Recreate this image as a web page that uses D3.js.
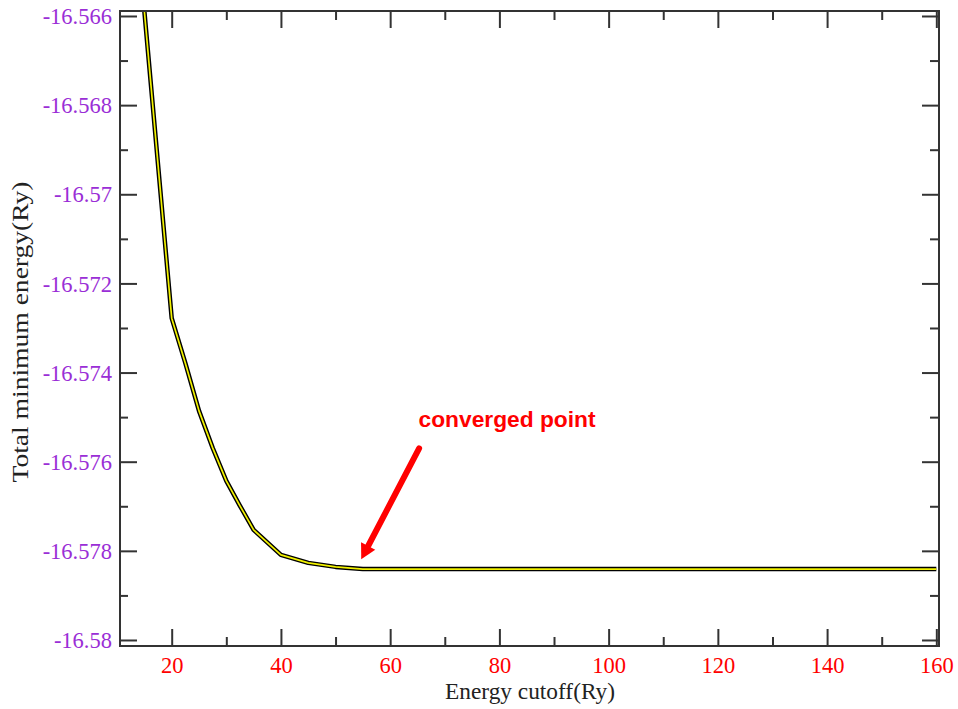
<!DOCTYPE html>
<html><head><meta charset="utf-8">
<script src="https://cdn.jsdelivr.net/npm/d3@7/dist/d3.min.js"></script>
<style>
html,body{margin:0;padding:0;background:#fff;}
svg{display:block;}
</style></head>
<body>
<script>
// ---- data ----
const cutoff = [15, 20, 22.5, 25, 27.5, 30, 32.5, 35, 40, 45, 50, 55, 60, 65, 70, 75, 80, 85, 90, 95, 100, 105, 110, 115, 120, 125, 130, 135, 140, 145, 150, 155, 160];
const energy = [-16.56590, -16.57278, -16.57379, -16.57486, -16.57569, -16.57643, -16.57699, -16.57753, -16.57809, -16.57827, -16.57836, -16.57841, -16.57841, -16.57841, -16.57841, -16.57841, -16.57841, -16.57841, -16.57841, -16.57841, -16.57841, -16.57841, -16.57841, -16.57841, -16.57841, -16.57841, -16.57841, -16.57841, -16.57841, -16.57841, -16.57841, -16.57841, -16.57841];
const xTickValues = [20, 40, 60, 80, 100, 120, 140, 160];
const xMinorValues = [30, 50, 70, 90, 110, 130, 150];
const yTickValues = [-16.566, -16.568, -16.57, -16.572, -16.574, -16.576, -16.578, -16.58];
const yMinorValues = [-16.567, -16.569, -16.571, -16.573, -16.575, -16.577, -16.579];
const yTickLabels = ["-16.566", "-16.568", "-16.57", "-16.572", "-16.574", "-16.576", "-16.578", "-16.58"];
const xTitle = "Energy cutoff(Ry)";
const yTitle = "Total minimum energy(Ry)";
const annotationText = "converged point";
const arrowTail = [65.3, -16.5757];
const arrowHead = [54.7, -16.57819];
const textAnchorPt = [65.2, -16.57523];

// ---- layout ----
const W = 958, H = 709;
const L = 120, R = 939, T = 11, B = 646;

const svg = d3.select("body").append("svg").attr("width", W).attr("height", H);

const x = d3.scaleLinear().domain([10.534, 160.49]).range([L, R]);
const y = d3.scaleLinear().domain([-16.565888, -16.580135]).range([T, B]);

const serif = "Liberation Serif, Times New Roman, serif";

svg.append("defs").append("clipPath").attr("id", "clip")
  .append("rect").attr("x", L).attr("y", T).attr("width", R - L).attr("height", B - T);

// data line: black outline with yellow core
const pts = cutoff.map((c, i) => [c, energy[i]]);
const line = d3.line().x(d => x(d[0])).y(d => y(d[1]));
const g = svg.append("g").attr("clip-path", "url(#clip)");
g.append("path").datum(pts).attr("d", line).attr("fill", "none")
  .attr("stroke", "#000").attr("stroke-width", 4.5).attr("stroke-linejoin", "round");
g.append("path").datum(pts).attr("d", line).attr("fill", "none")
  .attr("stroke", "#f2f200").attr("stroke-width", 1.7).attr("stroke-linejoin", "round");

// axes
const frameColor = "#333";
function styleAxis(sel) {
  sel.select(".domain").remove();
  sel.selectAll(".tick line").attr("stroke", frameColor).attr("stroke-width", 2);
}
const fmtY = v => yTickLabels[yTickValues.indexOf(v)];

const xb = svg.append("g").attr("transform", `translate(0,${B})`)
  .call(d3.axisBottom(x).tickValues(xTickValues).tickSize(-17).tickPadding(6).tickFormat(d3.format("d")));
styleAxis(xb);
xb.attr("font-family", serif);
xb.selectAll(".tick text").attr("fill", "#ff0000").attr("font-family", serif).attr("font-size", 22.5)
  .attr("y", 27).attr("dy", 0);
const xbm = svg.append("g").attr("transform", `translate(0,${B})`)
  .call(d3.axisBottom(x).tickValues(xMinorValues).tickSize(-9).tickFormat(""));
styleAxis(xbm);
const xt = svg.append("g").attr("transform", `translate(0,${T})`)
  .call(d3.axisTop(x).tickValues(xTickValues).tickSize(-17).tickFormat(""));
styleAxis(xt);
const xtm = svg.append("g").attr("transform", `translate(0,${T})`)
  .call(d3.axisTop(x).tickValues(xMinorValues).tickSize(-9).tickFormat(""));
styleAxis(xtm);

const yl = svg.append("g").attr("transform", `translate(${L},0)`)
  .call(d3.axisLeft(y).tickValues(yTickValues).tickSize(-17).tickPadding(8).tickFormat(fmtY));
styleAxis(yl);
yl.attr("font-family", serif);
yl.selectAll(".tick text").attr("fill", "#9a2ed6").attr("font-family", serif).attr("font-size", 22.5)
  .attr("x", -8).attr("dy", "0.34em");
const ylm = svg.append("g").attr("transform", `translate(${L},0)`)
  .call(d3.axisLeft(y).tickValues(yMinorValues).tickSize(-8).tickFormat(""));
styleAxis(ylm);
const yr = svg.append("g").attr("transform", `translate(${R},0)`)
  .call(d3.axisRight(y).tickValues(yTickValues).tickSize(-17).tickFormat(""));
styleAxis(yr);
const yrm = svg.append("g").attr("transform", `translate(${R},0)`)
  .call(d3.axisRight(y).tickValues(yMinorValues).tickSize(-9).tickFormat(""));
styleAxis(yrm);

// frame
svg.append("rect").attr("x", L).attr("y", T).attr("width", R - L).attr("height", B - T)
  .attr("fill", "none").attr("stroke", frameColor).attr("stroke-width", 2);

// titles
svg.append("text").attr("x", 530).attr("y", 699).attr("text-anchor", "middle")
  .attr("font-family", serif).attr("font-size", 22.5).attr("fill", "#222")
  .attr("textLength", 170).attr("lengthAdjust", "spacingAndGlyphs").text(xTitle);
svg.append("text").attr("transform", `translate(28,332) rotate(-90)`)
  .attr("text-anchor", "middle").attr("font-family", serif).attr("font-size", 23)
  .attr("textLength", 301).attr("lengthAdjust", "spacingAndGlyphs")
  .attr("fill", "#222").text(yTitle);

// annotation arrow
const hx = x(arrowHead[0]), hy = y(arrowHead[1]);
const tx = x(arrowTail[0]), ty = y(arrowTail[1]);
const ang = Math.atan2(hy - ty, hx - tx);
const headLen = 15, headW = 8;
const bx = hx - headLen * Math.cos(ang), by = hy - headLen * Math.sin(ang);
svg.append("line").attr("x1", tx).attr("y1", ty).attr("x2", bx).attr("y2", by)
  .attr("stroke", "#ff0000").attr("stroke-width", 6).attr("stroke-linecap", "round");
const px = -Math.sin(ang), py = Math.cos(ang);
svg.append("polygon")
  .attr("points", [[hx, hy], [bx + px * headW, by + py * headW], [bx - px * headW, by - py * headW]].map(p => p.join(",")).join(" "))
  .attr("fill", "#ff0000");
svg.append("text").attr("x", x(textAnchorPt[0])).attr("y", y(textAnchorPt[1]))
  .attr("font-family", "Liberation Sans, Arial, sans-serif").attr("font-weight", "bold")
  .attr("font-size", 22).attr("textLength", 177).attr("lengthAdjust", "spacingAndGlyphs")
  .attr("fill", "#ff0000").text(annotationText);
</script>
</body></html>
